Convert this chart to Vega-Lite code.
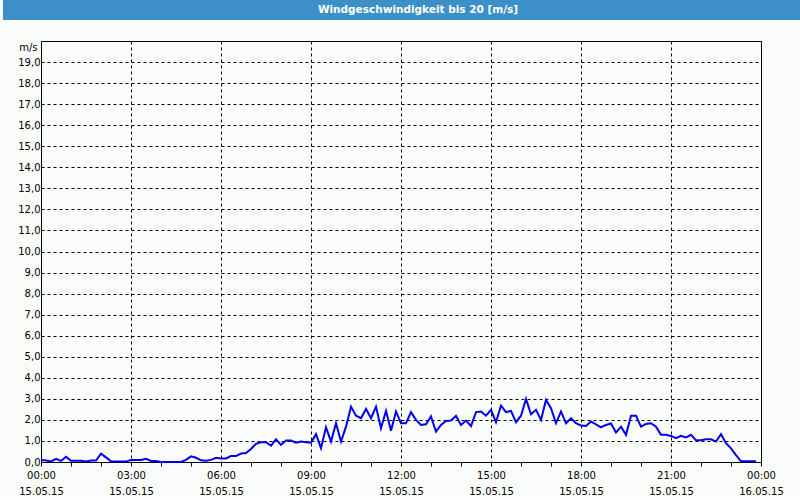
{
  "$schema": "https://vega.github.io/schema/vega-lite/v6.json",
  "background": "#fafcfa",
  "padding": 0,
  "spacing": 20,
  "config": {"font": "DejaVu Sans"},
  "datasets": {
    "wind": [
      {"time": "2015-05-15 00:00", "speed": 0.1},
      {"time": "2015-05-15 00:10", "speed": 0.07},
      {"time": "2015-05-15 00:20", "speed": 0.03},
      {"time": "2015-05-15 00:30", "speed": 0.15},
      {"time": "2015-05-15 00:40", "speed": 0.05},
      {"time": "2015-05-15 00:50", "speed": 0.25},
      {"time": "2015-05-15 01:00", "speed": 0.06},
      {"time": "2015-05-15 01:10", "speed": 0.06},
      {"time": "2015-05-15 01:20", "speed": 0.06},
      {"time": "2015-05-15 01:30", "speed": 0.03},
      {"time": "2015-05-15 01:40", "speed": 0.07},
      {"time": "2015-05-15 01:50", "speed": 0.07},
      {"time": "2015-05-15 02:00", "speed": 0.4},
      {"time": "2015-05-15 02:10", "speed": 0.22},
      {"time": "2015-05-15 02:20", "speed": 0.03},
      {"time": "2015-05-15 02:30", "speed": 0.02},
      {"time": "2015-05-15 02:40", "speed": 0.02},
      {"time": "2015-05-15 02:50", "speed": 0.02},
      {"time": "2015-05-15 03:00", "speed": 0.1},
      {"time": "2015-05-15 03:10", "speed": 0.1},
      {"time": "2015-05-15 03:20", "speed": 0.1},
      {"time": "2015-05-15 03:30", "speed": 0.15},
      {"time": "2015-05-15 03:40", "speed": 0.05},
      {"time": "2015-05-15 03:50", "speed": 0.05},
      {"time": "2015-05-15 04:00", "speed": 0.0},
      {"time": "2015-05-15 04:10", "speed": 0.0},
      {"time": "2015-05-15 04:20", "speed": 0.0},
      {"time": "2015-05-15 04:30", "speed": 0.0},
      {"time": "2015-05-15 04:40", "speed": 0.0},
      {"time": "2015-05-15 04:50", "speed": 0.1},
      {"time": "2015-05-15 05:00", "speed": 0.27},
      {"time": "2015-05-15 05:10", "speed": 0.2},
      {"time": "2015-05-15 05:20", "speed": 0.08},
      {"time": "2015-05-15 05:30", "speed": 0.06},
      {"time": "2015-05-15 05:40", "speed": 0.1},
      {"time": "2015-05-15 05:50", "speed": 0.2},
      {"time": "2015-05-15 06:00", "speed": 0.17},
      {"time": "2015-05-15 06:10", "speed": 0.17},
      {"time": "2015-05-15 06:20", "speed": 0.28},
      {"time": "2015-05-15 06:30", "speed": 0.28},
      {"time": "2015-05-15 06:40", "speed": 0.4},
      {"time": "2015-05-15 06:50", "speed": 0.43},
      {"time": "2015-05-15 07:00", "speed": 0.62},
      {"time": "2015-05-15 07:10", "speed": 0.86},
      {"time": "2015-05-15 07:20", "speed": 0.94},
      {"time": "2015-05-15 07:30", "speed": 0.94},
      {"time": "2015-05-15 07:40", "speed": 0.78},
      {"time": "2015-05-15 07:50", "speed": 1.08},
      {"time": "2015-05-15 08:00", "speed": 0.81},
      {"time": "2015-05-15 08:10", "speed": 1.02},
      {"time": "2015-05-15 08:20", "speed": 1.02},
      {"time": "2015-05-15 08:30", "speed": 0.92},
      {"time": "2015-05-15 08:40", "speed": 0.97},
      {"time": "2015-05-15 08:50", "speed": 0.94},
      {"time": "2015-05-15 09:00", "speed": 0.92},
      {"time": "2015-05-15 09:10", "speed": 1.32},
      {"time": "2015-05-15 09:20", "speed": 0.65},
      {"time": "2015-05-15 09:30", "speed": 1.65},
      {"time": "2015-05-15 09:40", "speed": 0.97},
      {"time": "2015-05-15 09:50", "speed": 1.84},
      {"time": "2015-05-15 10:00", "speed": 0.97},
      {"time": "2015-05-15 10:10", "speed": 1.68},
      {"time": "2015-05-15 10:20", "speed": 2.63},
      {"time": "2015-05-15 10:30", "speed": 2.2},
      {"time": "2015-05-15 10:40", "speed": 2.08},
      {"time": "2015-05-15 10:50", "speed": 2.52},
      {"time": "2015-05-15 11:00", "speed": 2.08},
      {"time": "2015-05-15 11:10", "speed": 2.63},
      {"time": "2015-05-15 11:20", "speed": 1.6},
      {"time": "2015-05-15 11:30", "speed": 2.43},
      {"time": "2015-05-15 11:40", "speed": 1.49},
      {"time": "2015-05-15 11:50", "speed": 2.4},
      {"time": "2015-05-15 12:00", "speed": 1.84},
      {"time": "2015-05-15 12:10", "speed": 1.84},
      {"time": "2015-05-15 12:20", "speed": 2.37},
      {"time": "2015-05-15 12:30", "speed": 2.0},
      {"time": "2015-05-15 12:40", "speed": 1.76},
      {"time": "2015-05-15 12:50", "speed": 1.79},
      {"time": "2015-05-15 13:00", "speed": 2.17},
      {"time": "2015-05-15 13:10", "speed": 1.44},
      {"time": "2015-05-15 13:20", "speed": 1.76},
      {"time": "2015-05-15 13:30", "speed": 1.95},
      {"time": "2015-05-15 13:40", "speed": 1.97},
      {"time": "2015-05-15 13:50", "speed": 2.19},
      {"time": "2015-05-15 14:00", "speed": 1.76},
      {"time": "2015-05-15 14:10", "speed": 1.97},
      {"time": "2015-05-15 14:20", "speed": 1.71},
      {"time": "2015-05-15 14:30", "speed": 2.37},
      {"time": "2015-05-15 14:40", "speed": 2.4},
      {"time": "2015-05-15 14:50", "speed": 2.2},
      {"time": "2015-05-15 15:00", "speed": 2.48},
      {"time": "2015-05-15 15:10", "speed": 1.89},
      {"time": "2015-05-15 15:20", "speed": 2.68},
      {"time": "2015-05-15 15:30", "speed": 2.37},
      {"time": "2015-05-15 15:40", "speed": 2.43},
      {"time": "2015-05-15 15:50", "speed": 1.89},
      {"time": "2015-05-15 16:00", "speed": 2.2},
      {"time": "2015-05-15 16:10", "speed": 3.0},
      {"time": "2015-05-15 16:20", "speed": 2.27},
      {"time": "2015-05-15 16:30", "speed": 2.48},
      {"time": "2015-05-15 16:40", "speed": 2.0},
      {"time": "2015-05-15 16:50", "speed": 2.95},
      {"time": "2015-05-15 17:00", "speed": 2.56},
      {"time": "2015-05-15 17:10", "speed": 1.84},
      {"time": "2015-05-15 17:20", "speed": 2.4},
      {"time": "2015-05-15 17:30", "speed": 1.84},
      {"time": "2015-05-15 17:40", "speed": 2.08},
      {"time": "2015-05-15 17:50", "speed": 1.84},
      {"time": "2015-05-15 18:00", "speed": 1.73},
      {"time": "2015-05-15 18:10", "speed": 1.71},
      {"time": "2015-05-15 18:20", "speed": 1.92},
      {"time": "2015-05-15 18:30", "speed": 1.79},
      {"time": "2015-05-15 18:40", "speed": 1.65},
      {"time": "2015-05-15 18:50", "speed": 1.76},
      {"time": "2015-05-15 19:00", "speed": 1.83},
      {"time": "2015-05-15 19:10", "speed": 1.4},
      {"time": "2015-05-15 19:20", "speed": 1.68},
      {"time": "2015-05-15 19:30", "speed": 1.29},
      {"time": "2015-05-15 19:40", "speed": 2.2},
      {"time": "2015-05-15 19:50", "speed": 2.2},
      {"time": "2015-05-15 20:00", "speed": 1.68},
      {"time": "2015-05-15 20:10", "speed": 1.81},
      {"time": "2015-05-15 20:20", "speed": 1.84},
      {"time": "2015-05-15 20:30", "speed": 1.68},
      {"time": "2015-05-15 20:40", "speed": 1.29},
      {"time": "2015-05-15 20:50", "speed": 1.29},
      {"time": "2015-05-15 21:00", "speed": 1.24},
      {"time": "2015-05-15 21:10", "speed": 1.13},
      {"time": "2015-05-15 21:20", "speed": 1.24},
      {"time": "2015-05-15 21:30", "speed": 1.17},
      {"time": "2015-05-15 21:40", "speed": 1.29},
      {"time": "2015-05-15 21:50", "speed": 1.03},
      {"time": "2015-05-15 22:00", "speed": 1.03},
      {"time": "2015-05-15 22:10", "speed": 1.08},
      {"time": "2015-05-15 22:20", "speed": 1.08},
      {"time": "2015-05-15 22:30", "speed": 0.97},
      {"time": "2015-05-15 22:40", "speed": 1.32},
      {"time": "2015-05-15 22:50", "speed": 0.89},
      {"time": "2015-05-15 23:00", "speed": 0.65},
      {"time": "2015-05-15 23:10", "speed": 0.33},
      {"time": "2015-05-15 23:20", "speed": 0.03},
      {"time": "2015-05-15 23:30", "speed": 0.03},
      {"time": "2015-05-15 23:40", "speed": 0.03},
      {"time": "2015-05-15 23:50", "speed": 0.03}
    ]
  },
  "vconcat": [
    {
      "width": 800,
      "height": 20,
      "view": {"stroke": null},
      "data": {"values": [{"label": "Windgeschwindigkeit bis 20 [m/s]"}]},
      "layer": [
        {"mark": {"type": "rect", "color": "#3d8fc7"}, "encoding": {}},
        {
          "mark": {"type": "text", "color": "#ffffff", "font": "DejaVu Sans", "fontWeight": "bold", "fontSize": 10.5, "dx": 15, "baseline": "middle", "align": "center"},
          "encoding": {"text": {"field": "label", "type": "nominal"}}
        }
      ]
    },
    {
      "spacing": -22,
      "resolve": {"scale": {"y": "independent"}, "axis": {"y": "independent"}},
      "hconcat": [
        {
          "width": 1,
          "height": 421,
          "view": {"stroke": null},
          "data": {"values": [{"speed": 0}]},
          "mark": {"type": "point", "opacity": 0},
          "encoding": {
            "y": {
              "field": "speed",
              "type": "quantitative",
              "scale": {"domain": [0, 20], "nice": false},
              "axis": {
                "orient": "right",
                "title": "m/s",
                "titleAngle": 0,
                "titleAlign": "right",
                "titleBaseline": "middle",
                "titleX": 33,
                "titleY": 6,
                "titleFontWeight": "normal",
                "titleFontSize": 10,
                "titleColor": "#000000",
                "titleFont": "DejaVu Sans",
                "values": [0, 1, 2, 3, 4, 5, 6, 7, 8, 9, 10, 11, 12, 13, 14, 15, 16, 17, 18, 19],
                "labelExpr": "replace(format(datum.value, '.1f'), '.', ',')",
                "labelAlign": "right",
                "labelPadding": 36,
                "ticks": false,
                "tickSize": 0,
                "domain": false,
                "grid": false,
                "labelFontSize": 10,
                "labelColor": "#000000",
                "labelFont": "DejaVu Sans",
                "minExtent": 0
              }
            }
          }
        },
        {
          "width": 720,
          "height": 421,
          "view": {"stroke": "#000000", "strokeWidth": 1},
          "data": {"name": "wind", "format": {"parse": {"time": "utc:'%Y-%m-%d %H:%M'"}}},
          "mark": {"type": "line", "color": "#0000ee", "strokeWidth": 2, "interpolate": "linear"},
          "encoding": {
            "x": {
              "field": "time",
              "type": "temporal",
              "scale": {"type": "utc", "nice": false, "domain": [1431648000000, 1431734400000]},
              "axis": {
                "title": null,
                "values": [1431648000000, 1431651600000, 1431655200000, 1431658800000, 1431662400000, 1431666000000, 1431669600000, 1431673200000, 1431676800000, 1431680400000, 1431684000000, 1431687600000, 1431691200000, 1431694800000, 1431698400000, 1431702000000, 1431705600000, 1431709200000, 1431712800000, 1431716400000, 1431720000000, 1431723600000, 1431727200000, 1431730800000, 1431734400000],
                "domain": false,
                "ticks": true,
                "tickSize": 4,
                "tickColor": "#000000",
                "tickWidth": 1,
                "grid": true,
                "gridColor": "#000000",
                "gridDash": [3, 3],
                "gridWidth": 1,
                "gridOpacity": {"condition": {"test": "utchours(datum.value) % 3 == 0", "value": 1}, "value": 0},
                "labelExpr": "utchours(datum.value) % 3 == 0 ? [utcFormat(datum.value, '%H:%M'), utcFormat(datum.value, '%d.%m.%y')] : ''",
                "labelOverlap": false,
                "labelFlush": false,
                "labelPadding": 4,
                "labelFontSize": 10,
                "labelColor": "#000000",
                "labelLineHeight": 16,
                "labelFont": "DejaVu Sans"
              }
            },
            "y": {
              "field": "speed",
              "type": "quantitative",
              "scale": {"domain": [0, 20], "nice": false},
              "axis": {
                "title": null,
                "values": [0, 1, 2, 3, 4, 5, 6, 7, 8, 9, 10, 11, 12, 13, 14, 15, 16, 17, 18, 19],
                "labels": false,
                "ticks": false,
                "tickSize": 0,
                "domain": false,
                "grid": true,
                "gridColor": "#000000",
                "gridDash": [3, 3],
                "gridWidth": 1,
                "minExtent": 0,
                "maxExtent": 0
              }
            }
          }
        }
      ]
    }
  ]
}
